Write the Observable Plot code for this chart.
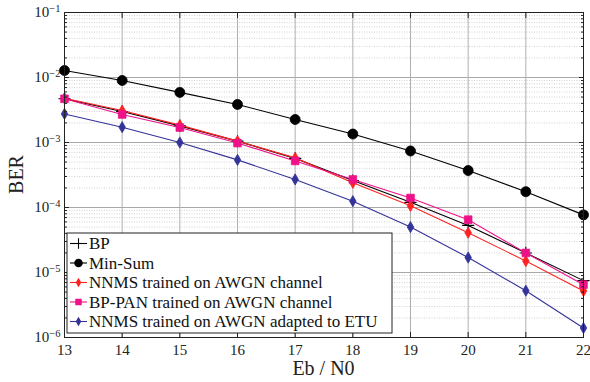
<!DOCTYPE html>
<html><head><meta charset="utf-8">
<script src="https://cdn.jsdelivr.net/npm/d3@7"></script>
<script src="https://cdn.jsdelivr.net/npm/@observablehq/plot@0.6"></script>
<style>
body{margin:0;background:#fff}
#chart svg, #chart svg text { font-family: "Liberation Serif", "Times New Roman", serif !important; }
</style>
</head><body><div id="chart"></div>
<script>
const ebn0 = [13, 14, 15, 16, 17, 18, 19, 20, 21, 22];
const bp       = [4.7e-3, 3.0e-3, 1.8e-3, 1.05e-3, 5.7e-4, 2.6e-4, 1.2e-4, 5.3e-5, 2.0e-5, 7.5e-6];
const minSum   = [1.28e-2, 9.0e-3, 5.9e-3, 3.85e-3, 2.26e-3, 1.35e-3, 7.4e-4, 3.7e-4, 1.75e-4, 7.7e-5];
const nnmsAwgn = [4.8e-3, 3.1e-3, 1.85e-3, 1.05e-3, 5.8e-4, 2.4e-4, 1.06e-4, 4.1e-5, 1.5e-5, 5.2e-6];
const bpPan    = [4.7e-3, 2.7e-3, 1.7e-3, 9.8e-4, 5.2e-4, 2.7e-4, 1.4e-4, 6.5e-5, 2.0e-5, 6.5e-6];
const nnmsEtu  = [2.75e-3, 1.72e-3, 1.0e-3, 5.4e-4, 2.7e-4, 1.25e-4, 5.0e-5, 1.7e-5, 5.25e-6, 1.4e-6];
const names = ["BP", "Min-Sum", "NNMS trained on AWGN channel", "BP-PAN trained on AWGN channel", "NNMS trained on AWGN adapted to ETU"];
const colors = ["#000000", "#000000", "#ff2222", "#ee1188", "#333399"];
const symbols = ["plus", "circle", "diamond", "square", "diamond"];
const sizes = [4, 5, 3.4, 4.3, 3.4];
const allValues = [bp, minSum, nnmsAwgn, bpPan, nnmsEtu];
const majorTicks = [1e-6, 1e-5, 1e-4, 1e-3, 1e-2, 1e-1];
const minorTicks = majorTicks.slice(0, -1).flatMap(d => [2,3,4,5,6,7,8,9].map(k => k * d));

const rows = allValues.flatMap((vals, s) => vals.map((v, i) => ({x: ebn0[i], y: v, s})));
const font = "Liberation Serif, Times New Roman, serif";

const marks = [
  Plot.ruleY(minorTicks, {stroke: "#c8c8c8", strokeWidth: 0.8, strokeDasharray: "1,1.5"}),
  Plot.ruleY(majorTicks, {stroke: "#a8a8a8", strokeWidth: 1}),
  Plot.ruleX(ebn0, {stroke: "#b0b0b0", strokeWidth: 1}),
];
allValues.forEach((vals, s) => {
  const data = rows.filter(r => r.s === s);
  marks.push(Plot.line(data, {x: "x", y: "y", stroke: colors[s], strokeWidth: 1.1}));
  const sym = symbols[s];
  if (sym === "plus") {
    marks.push(Plot.dot(data, {x: "x", y: "y", symbol: sym, r: sizes[s], stroke: colors[s], strokeWidth: 1.1}));
  } else {
    marks.push(Plot.dot(data, {x: "x", y: "y", symbol: sym, r: sizes[s], fill: colors[s], stroke: colors[s], strokeWidth: 0.8}));
  }
});
marks.push(
  Plot.frame({stroke: "#222", strokeWidth: 1}),
  Plot.axisY({anchor: "left", ticks: minorTicks, tickSize: -3, tickFormat: () => "", label: null, stroke: "#222"}),
  Plot.axisY({anchor: "right", ticks: minorTicks, tickSize: -3, tickFormat: () => "", label: null, stroke: "#222"}),
  Plot.axisY({anchor: "right", ticks: majorTicks, tickSize: -5, tickFormat: () => "", label: null, stroke: "#222"}),
  Plot.axisY({anchor: "left", ticks: majorTicks, tickSize: -5, tickPadding: 9, tickFormat: d => "10|" + Math.round(Math.log10(d)), label: null, stroke: "#222", fontSize: 15, fill: "#222"}),
  Plot.axisX({anchor: "top", ticks: ebn0, tickSize: -5, tickFormat: () => "", label: null, stroke: "#222"}),
  Plot.axisX({anchor: "bottom", ticks: ebn0, tickSize: -5, tickPadding: 12, tickFormat: d => String(d), label: null, stroke: "#222", fontSize: 15, fill: "#222"})
);

const chart = Plot.plot({
  width: 590, height: 382,
  marginLeft: 64, marginRight: 7, marginTop: 12, marginBottom: 45,
  style: {fontFamily: font, background: "#fff", color: "#222", overflow: "visible"},
  x: {domain: [13, 22]},
  y: {type: "log", domain: [1e-6, 1e-1]},
  marks
});
document.getElementById("chart").appendChild(chart);

const svg = d3.select(chart);
// superscript exponents on y tick labels
svg.selectAll("text").each(function() {
  const t = this.textContent;
  if (t.includes("|")) {
    const [base, exp] = t.split("|");
    const el = d3.select(this);
    el.text("");
    el.append("tspan").text(base);
    el.append("tspan").attr("dy", "-0.55em").attr("font-size", "10.5px").text("\u2212" + exp.replace("-", ""));
  }
});

// axis labels
svg.append("text").attr("x", 323.5).attr("y", 375).attr("text-anchor", "middle")
  .attr("font-size", 20).attr("fill", "#222").text("Eb / N0");
svg.append("text").attr("transform", "translate(23,174.5) rotate(-90)").attr("text-anchor", "middle")
  .attr("font-size", 20).attr("fill", "#222").text("BER");

// legend
const lg = svg.append("g").attr("transform", "translate(67,233)").attr("text-anchor", "start");
lg.append("rect").attr("width", 325).attr("height", 100).attr("fill", "#fff").attr("stroke", "#222").attr("stroke-width", 1);
const sym = {circle: d3.symbolCircle, diamond: d3.symbolDiamond, square: d3.symbolSquare, plus: d3.symbolPlus};
names.forEach((n, i) => {
  const cy = 10.5 + i * 19.5;
  const g = lg.append("g").attr("transform", `translate(0,${cy})`);
  g.append("line").attr("x1", 3).attr("x2", 20).attr("stroke", colors[i]).attr("stroke-width", 1.1);
  const r = sizes[i] * 0.85;
  const area = Math.PI * r * r;
  const p = g.append("path").attr("transform", "translate(11.5,0)").attr("d", d3.symbol(sym[symbols[i]], area)());
  if (symbols[i] === "plus") p.attr("fill", "none").attr("stroke", colors[i]).attr("stroke-width", 1.1);
  else p.attr("fill", colors[i]);
  g.append("text").attr("x", 22).attr("dy", "0.35em").attr("text-anchor", "start").attr("font-size", 17).attr("fill", "#111").text(n);
});
</script>
</body></html>
